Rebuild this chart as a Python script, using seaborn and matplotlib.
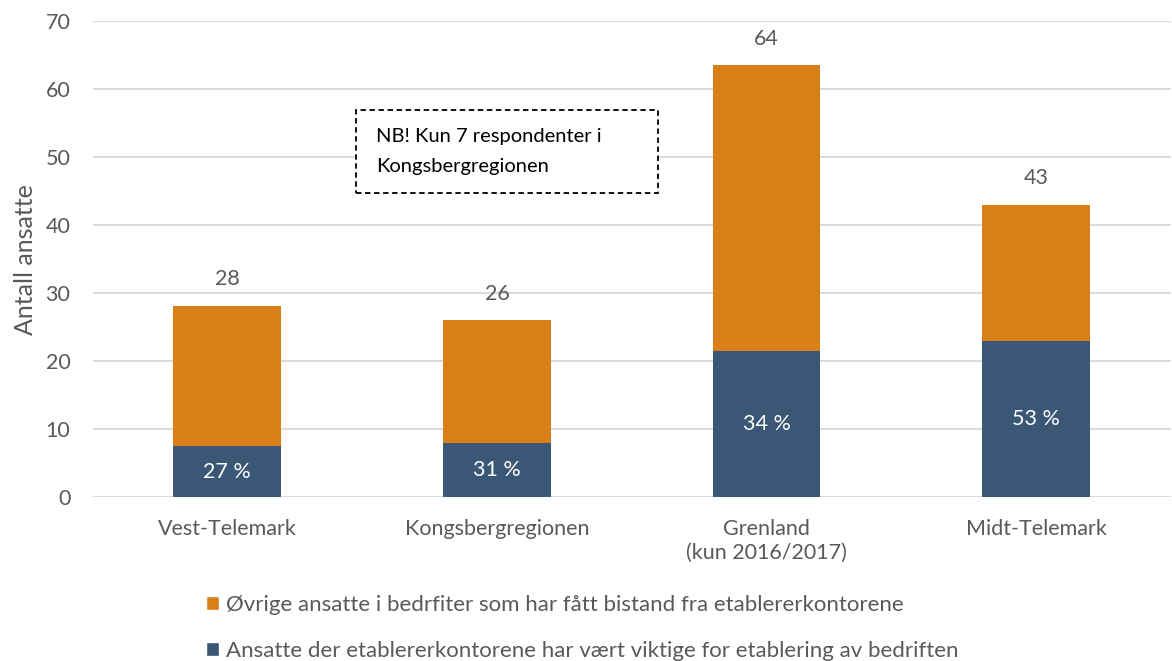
import matplotlib
matplotlib.use("Agg")
import matplotlib.pyplot as plt
import seaborn as sns
import pandas as pd
from matplotlib.patches import Patch, Rectangle

# data
regions = ["Vest-Telemark", "Kongsbergregionen", "Grenland\n(kun 2016/2017)", "Midt-Telemark"]
total_employees = [28.1, 26.0, 63.5, 43.0]
key_employees = [7.5, 8.0, 21.5, 22.9]
total_labels = ["28", "26", "64", "43"]
share_labels = ["27 %", "31 %", "34 %", "53 %"]

ORANGE = "#d97f17"
BLUE = "#3a5775"
GREY = "#595959"

sns.set_theme(style="white")
plt.rcParams["font.family"] = ["Lato", "DejaVu Sans"]

df = pd.DataFrame({"region": regions, "total": total_employees, "key": key_employees})

fig, ax = plt.subplots(figsize=(11.72, 6.61), dpi=100)
fig.subplots_adjust(left=0.079, right=0.999, top=0.968, bottom=0.248)

sns.barplot(data=df, x="region", y="total", color=ORANGE, width=0.4,
            saturation=1, linewidth=0, ax=ax, zorder=3)
sns.barplot(data=df, x="region", y="key", color=BLUE, width=0.4,
            saturation=1, linewidth=0, ax=ax, zorder=3)

ax.bar_label(ax.containers[0], labels=total_labels, padding=12,
             fontsize=15.5, color=GREY)
ax.bar_label(ax.containers[1], labels=share_labels, label_type="center",
             fontsize=15.5, color="white")

ax.set_ylim(0, 70)
ax.set_xlim(-0.5, 3.5)
ax.set_yticks(range(0, 71, 10))
ax.yaxis.grid(True, color="#d9d9d9", linewidth=1.3, zorder=0)
ax.set_axisbelow(True)
for s in ax.spines.values():
    s.set_visible(False)
ax.tick_params(axis="both", length=0, labelsize=15.5, colors=GREY)
ax.tick_params(axis="x", pad=16)
ax.tick_params(axis="y", pad=16)
ax.set_xlabel("")
ax.set_ylabel("Antall ansatte", fontsize=18, color=GREY, labelpad=6)

# note box
ax.add_patch(Rectangle((0.478, 44.7), 1.118, 12.2, facecolor="white",
                       edgecolor="black", linestyle=(0, (3, 2)),
                       linewidth=1.3, zorder=5))
ax.text(0.552, 50.85, "NB! Kun 7 respondenter i\nKongsbergregionen",
        fontsize=14.5, color="black", va="center", ha="left",
        linespacing=1.9, zorder=6)

handles = [Patch(facecolor=ORANGE, label="Øvrige ansatte i bedrfiter som har fått bistand fra etablererkontorene"),
           Patch(facecolor=BLUE, label="Ansatte der etablererkontorene har vært viktige for etablering av bedriften")]
fig.legend(handles=handles, loc="upper left", bbox_to_anchor=(0.168, 0.114),
           frameon=False, fontsize=16, labelcolor=GREY, handlelength=0.6,
           handleheight=0.6, handletextpad=0.3, labelspacing=1.2,
           borderaxespad=0)

fig.savefig("out.png", dpi=100)
